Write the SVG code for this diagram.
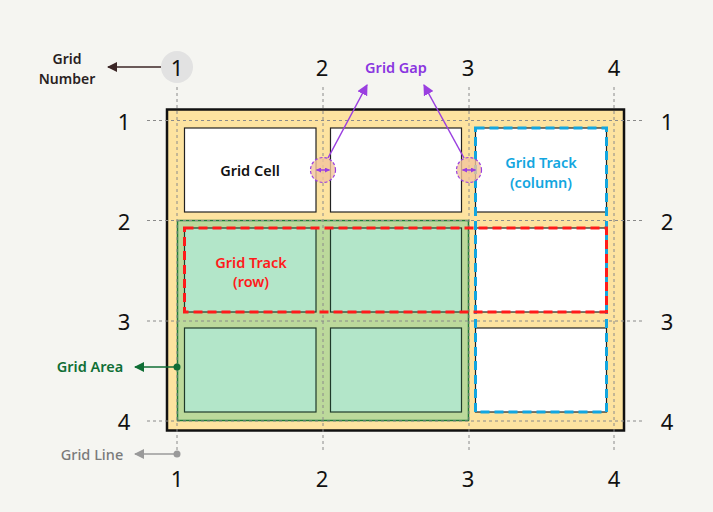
<svg xmlns="http://www.w3.org/2000/svg" width="713" height="512" viewBox="0 0 713 512">
<defs>
<style>
text{font-family:"Noto Sans","Liberation Sans",sans-serif;text-anchor:middle;dominant-baseline:central}
.num{font-size:22px;fill:#111}
.lbl{font-size:14.5px;font-weight:600}
.grid{stroke:#8a8a8a;stroke-width:1;stroke-dasharray:3,3;fill:none}
.cell{fill:#fff;stroke:#222;stroke-width:1.2}
.mcell{fill:#b3e6c9;stroke:#1f3a2a;stroke-width:1.2}
.gap{fill:#f2c49c;fill-opacity:0.8;stroke:#9a3fe0;stroke-width:1.2;stroke-dasharray:3,2}
</style>
<marker id="aBrown" viewBox="0 0 10 10" refX="9" refY="5" markerWidth="10" markerHeight="10" markerUnits="userSpaceOnUse" orient="auto"><path d="M0,0L10,5L0,10z" fill="#3b2626"/></marker>
<marker id="aPurple" viewBox="0 0 10 10" refX="9" refY="5" markerWidth="11" markerHeight="11" markerUnits="userSpaceOnUse" orient="auto"><path d="M0,0L10,5L0,10z" fill="#9a3fe0"/></marker>
<marker id="aPurpleS" viewBox="0 0 10 10" refX="9" refY="5" markerWidth="5" markerHeight="5" markerUnits="userSpaceOnUse" orient="auto-start-reverse"><path d="M0,0L10,5L0,10z" fill="#9a3fe0"/></marker>
<marker id="aGreen" viewBox="0 0 10 10" refX="9" refY="5" markerWidth="10" markerHeight="10" markerUnits="userSpaceOnUse" orient="auto"><path d="M0,0L10,5L0,10z" fill="#0f6e35"/></marker>
<marker id="aGray" viewBox="0 0 10 10" refX="9" refY="5" markerWidth="10" markerHeight="10" markerUnits="userSpaceOnUse" orient="auto"><path d="M0,0L10,5L0,10z" fill="#9a9a9a"/></marker>
</defs>
<rect width="713" height="512" fill="#f5f5f1"/>

<g id="container">
<rect x="167" y="109.5" width="457" height="321" fill="#fde3a0" stroke="#111" stroke-width="2.5"/>
</g>

<g id="grid-area">
<rect x="177.5" y="220.5" width="291" height="200" fill="#bcd99b" stroke="#1e7a3c" stroke-width="1.5"/>
</g>

<g id="cells">
<rect class="cell" x="184.5" y="128" width="131.5" height="84"/>
<rect class="cell" x="330.5" y="128" width="131" height="84"/>
<rect class="cell" x="475.5" y="128" width="131" height="84"/>
<rect class="mcell" x="184.5" y="228" width="131.5" height="84"/>
<rect class="mcell" x="330.5" y="228" width="131" height="84"/>
<rect class="cell" x="475.5" y="228" width="131" height="84"/>
<rect class="mcell" x="184.5" y="328" width="131.5" height="84"/>
<rect class="mcell" x="330.5" y="328" width="131" height="84"/>
<rect class="cell" x="475.5" y="328" width="131" height="84"/>
</g>

<g id="grid-lines">
<line class="grid" x1="177" y1="87" x2="177" y2="453"/>
<line class="grid" x1="323" y1="87" x2="323" y2="453"/>
<line class="grid" x1="469" y1="87" x2="469" y2="453"/>
<line class="grid" x1="614" y1="87" x2="614" y2="453"/>
<line class="grid" x1="147" y1="120.5" x2="644" y2="120.5"/>
<line class="grid" x1="147" y1="220.5" x2="644" y2="220.5"/>
<line class="grid" x1="147" y1="321" x2="644" y2="321"/>
<line class="grid" x1="147" y1="421" x2="644" y2="421"/>
</g>

<g id="track-column">
<rect x="475.5" y="128" width="131" height="284" fill="none" stroke="#12a6e0" stroke-width="3" stroke-dasharray="9,5"/>
<text class="lbl" x="541" y="162" fill="#12a6e0">Grid Track</text>
<text class="lbl" x="541" y="182" fill="#12a6e0">(column)</text>
</g>

<g id="track-row">
<rect x="184.5" y="228" width="422" height="84" fill="none" stroke="#ff1a1a" stroke-width="3" stroke-dasharray="9,5"/>
<text class="lbl" x="251" y="262" fill="#ff1a1a">Grid Track</text>
<text class="lbl" x="251" y="281" fill="#ff1a1a">(row)</text>
</g>

<g id="grid-cell-label">
<text class="lbl" x="250" y="170" fill="#111">Grid Cell</text>
</g>

<g id="gaps">
<circle class="gap" cx="323" cy="170" r="12.5"/>
<circle class="gap" cx="469" cy="170" r="12.5"/>
</g>

<g id="numbers">
<circle cx="177" cy="67" r="16" fill="#e2e2e2"/>
<text class="num" x="177" y="67">1</text>
<text class="num" x="322" y="67">2</text>
<text class="num" x="468" y="67">3</text>
<text class="num" x="614" y="67">4</text>
<text class="num" x="177" y="478">1</text>
<text class="num" x="322" y="478">2</text>
<text class="num" x="468" y="478">3</text>
<text class="num" x="614" y="478">4</text>
<text class="num" x="124" y="121">1</text>
<text class="num" x="124" y="221">2</text>
<text class="num" x="124" y="321">3</text>
<text class="num" x="124" y="421">4</text>
<text class="num" x="667" y="121">1</text>
<text class="num" x="667" y="221">2</text>
<text class="num" x="667" y="321">3</text>
<text class="num" x="667" y="421">4</text>
</g>

<g id="labels">
<text class="lbl" x="67" y="58" fill="#2a1f1f" style="font-size:14px">Grid</text>
<text class="lbl" x="67" y="78" fill="#2a1f1f" style="font-size:14px">Number</text>
<text class="lbl" x="396" y="67" fill="#8a35e0">Grid Gap</text>
<text class="lbl" x="90" y="366" fill="#0f6e35">Grid Area</text>
<text x="92" y="454" fill="#7a7a7a" style="font-size:14.5px;font-weight:500">Grid Line</text>
</g>

<g id="connectors">
<line x1="161" y1="67" x2="108" y2="67" stroke="#3b2626" stroke-width="1.5" marker-end="url(#aBrown)"/>
<line x1="328" y1="158" x2="367" y2="85" stroke="#9a3fe0" stroke-width="1.5" marker-end="url(#aPurple)"/>
<line x1="464" y1="158" x2="424" y2="85" stroke="#9a3fe0" stroke-width="1.5" marker-end="url(#aPurple)"/>
<line x1="316.5" y1="170" x2="329.5" y2="170" stroke="#9a3fe0" stroke-width="1.5" marker-start="url(#aPurpleS)" marker-end="url(#aPurpleS)"/>
<line x1="462.5" y1="170" x2="475.5" y2="170" stroke="#9a3fe0" stroke-width="1.5" marker-start="url(#aPurpleS)" marker-end="url(#aPurpleS)"/>
<line x1="177" y1="367" x2="135" y2="367" stroke="#0f6e35" stroke-width="1.5" marker-end="url(#aGreen)"/>
<circle cx="177" cy="367" r="3.5" fill="#0f6e35"/>
<line x1="177" y1="454" x2="135" y2="454" stroke="#9a9a9a" stroke-width="1.5" marker-end="url(#aGray)"/>
<circle cx="177" cy="454" r="3.5" fill="#9a9a9a"/>
</g>
</svg>
